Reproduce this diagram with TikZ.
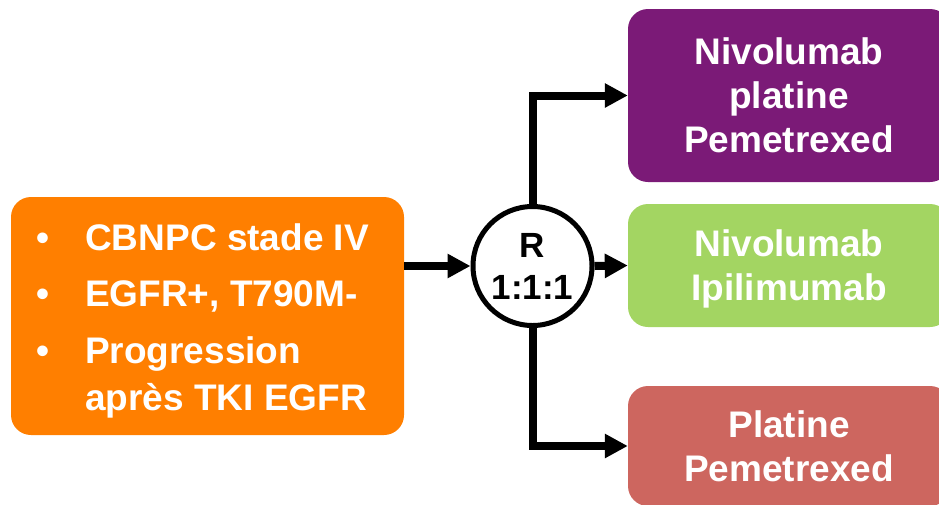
\documentclass[tikz,border=0pt]{standalone}
\usepackage{fontspec}
\setmainfont{Liberation Sans}
\usetikzlibrary{arrows.meta}
\definecolor{armorange}{HTML}{FF7F00}
\definecolor{armpurple}{HTML}{7B1A77}
\definecolor{armgreen}{HTML}{A3D562}
\definecolor{armred}{HTML}{CD665F}
\newcommand{\bul}{\makebox[49pt][l]{\textbullet}}
\begin{document}
\begin{tikzpicture}[x=1pt,y=-1pt,
  armbox/.style={rounded corners=20pt, inner sep=0pt, text=white,
    font=\fontsize{37}{44}\selectfont\bfseries, align=center,
    minimum width=322pt},
  link/.style={line width=8pt, -{Triangle[length=23pt,width=23pt]}},
]
\useasboundingbox (0,0) rectangle (939,504);

% inclusion criteria
\node[fill=armorange, rounded corners=20pt, minimum width=393pt,
      minimum height=238pt, inner sep=0pt] (crit) at (207.5,316) {};
\node[anchor=west, inner sep=0pt, text=white, align=left,
      font=\fontsize{37}{47}\selectfont\bfseries] (crittext) at (36,320.5)
  {\bul CBNPC stade IV\\[9.5pt]
   \bul EGFR+, T790M-\\[9.5pt]
   \bul Progression\\
   \makebox[49pt]{}après TKI EGFR};

% randomisation
\node[circle, draw, line width=5pt, minimum size=119pt, inner sep=0pt,
      align=center, font=\fontsize{35}{42}\selectfont\bfseries]
  (rand) at (532.5,266) {R\\1:1:1};

% treatment arms
\node[armbox, fill=armpurple, minimum height=173pt] (armA) at (789,95.5)
  {Nivolumab\\platine\\Pemetrexed};
\node[armbox, fill=armgreen, minimum height=123pt, text depth=0pt] (armB)
  at (789,265.5) {Nivolumab\\Ipilimumab};
\node[armbox, fill=armred, minimum height=120pt] (armC) at (789,446)
  {Platine\\Pemetrexed};

% connectors
\draw[link] (crit.east |- rand.west) -- (rand.west);
\draw[link] (rand.north) |- (armA.west);
\draw[link] (rand.east) -- (armB.west);
\draw[link] (rand.south) |- (armC.west);
\end{tikzpicture}
\end{document}
